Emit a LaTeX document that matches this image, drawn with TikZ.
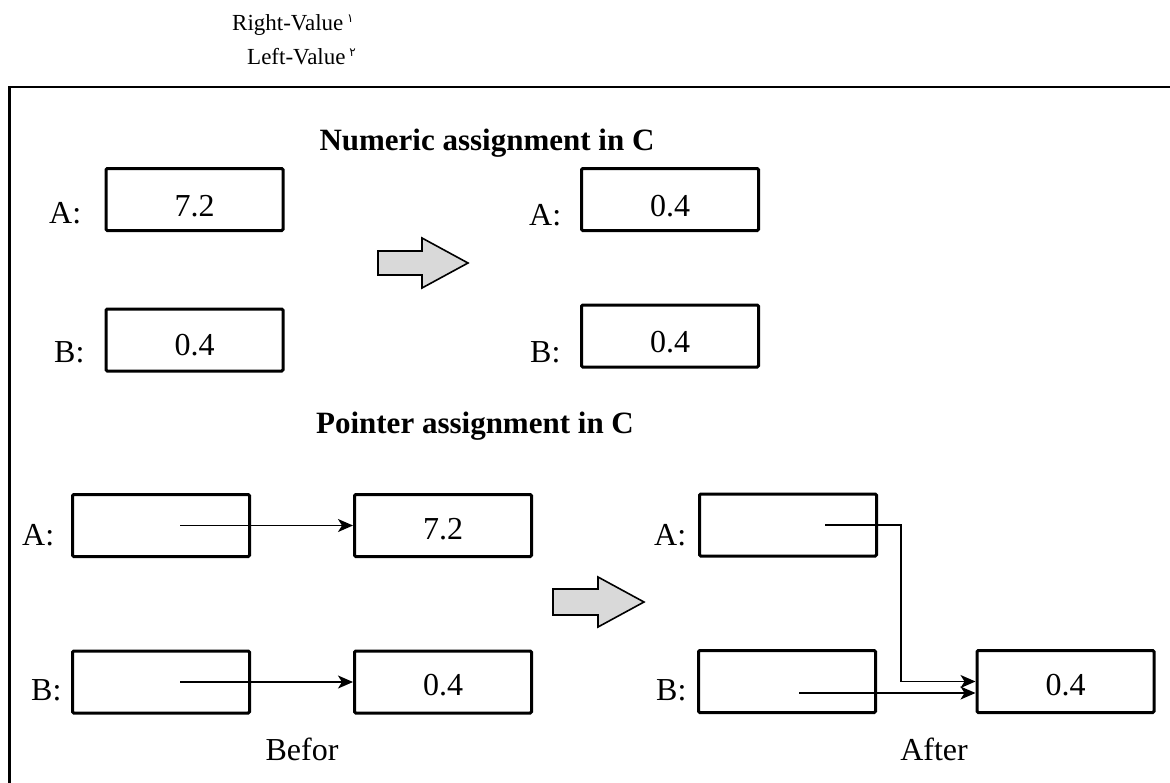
\documentclass[tikz,border=0pt]{standalone}
\usepackage{fontspec}
\setmainfont{Liberation Serif}
\newfontfamily\arabicfont[Script=Arabic]{DejaVu Sans}
\usetikzlibrary{arrows.meta}

\begin{document}
\begin{tikzpicture}[x=1pt,y=-1pt,
  cell/.style={draw, line width=3pt, rounded corners=1.2pt, minimum width=177pt,
               minimum height=62pt, inner sep=0pt},
  txt/.style={inner sep=0pt, anchor=base, font=\fontsize{32}{38}\selectfont},
  tag/.style={inner sep=0pt, anchor=base west, font=\fontsize{32}{38}\selectfont},
  head/.style={inner sep=0pt, anchor=base, font=\bfseries\fontsize{31}{36}\selectfont},
  note/.style={inner sep=0pt, anchor=base west, font=\fontsize{23}{28}\selectfont},
  ptr/.style={line width=1.6pt, -{Stealth[length=15pt,width=13pt,inset=4pt]}},
  fat/.style={draw, line width=1.6pt, fill=black!15, line join=miter}]

\useasboundingbox (0,0) rectangle (1170,782);
\clip (0,0) rectangle (1170,782);

% notes above the frame
\newcommand\supdigit[1]{{\arabicfont\fontsize{12}{14}\selectfont\raisebox{8pt}{#1}}}
\node[note] (rv) at (232,30) {Right-Value\,\supdigit{۱}};
\node[note] (lv) at (247,64) {Left-Value\,\supdigit{۲}};

% outer frame (runs off the right and bottom edges)
\draw[line width=2.5pt] (9.5,87) rectangle (1200,820);

% ---------- numeric assignment ----------
\node[head] (t1) at (487,150) {Numeric assignment in C};

\node[cell] (a1) at (194.5,199.5) {};
\node[txt]  (a1v) at (194.5,216) {7.2};
\node[tag]  (a1l) at (49,223) {A:};

\node[cell] (b1) at (194.5,340) {};
\node[txt]  (b1v) at (194.5,355) {0.4};
\node[tag]  (b1l) at (54,362) {B:};

\draw[fat] (378,251) -- (422,251) -- (422,238) -- (468,263) -- (422,288)
           -- (422,275) -- (378,275) -- cycle;

\node[cell] (a2) at (670,199.5) {};
\node[txt]  (a2v) at (670,216) {0.4};
\node[tag]  (a2l) at (529,225) {A:};

\node[cell] (b2) at (670,336) {};
\node[txt]  (b2v) at (670,352) {0.4};
\node[tag]  (b2l) at (530,362) {B:};

% ---------- pointer assignment ----------
\node[head] (t2) at (475,433) {Pointer assignment in C};

\node[cell] (pa1) at (161,525.5) {};
\node[tag]  (pa1l) at (22,545) {A:};
\node[cell] (pb1) at (161,682) {};
\node[tag]  (pb1l) at (31,700) {B:};

\node[cell] (v1) at (443,525.5) {};
\node[txt]  (v1v) at (443,539) {7.2};
\node[cell] (v2) at (443,682) {};
\node[txt]  (v2v) at (443,695) {0.4};

\coordinate (s1) at (180,525.5);
\coordinate (s2) at (180,682);
\draw[ptr] (s1) -- (v1.west);
\draw[ptr] (s2) -- (v2.west);

\node[txt] (before) at (302,760) {Befor};

\draw[fat] (553,589) -- (598,589) -- (598,577) -- (644,602) -- (598,627)
           -- (598,615) -- (553,615) -- cycle;

\node[cell] (pa2) at (788,525) {};
\node[tag]  (pa2l) at (654,545) {A:};
\node[cell] (pb2) at (787,681.5) {};
\node[tag]  (pb2l) at (656,700) {B:};

\node[cell] (res) at (1065.5,681.5) {};
\node[txt]  (resv) at (1065.5,695) {0.4};

\coordinate (s3) at (825,525);
\coordinate (turn) at (901,681.5);
\coordinate (s4) at (799,693);
\draw[ptr] (s3) -| (turn) -- (res.west);
\draw[ptr] (s4) -- (s4 -| res.west);

\node[txt] (after) at (934,760) {After};
\end{tikzpicture}
\end{document}
